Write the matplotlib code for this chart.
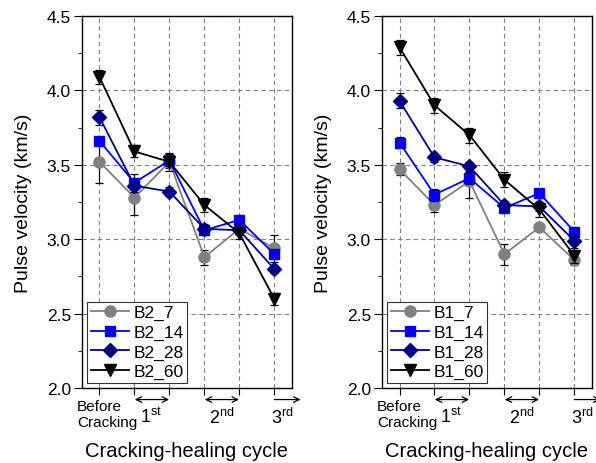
import numpy as np
import matplotlib
matplotlib.use('Agg')
import matplotlib.pyplot as plt

plt.rcParams['font.family'] = ['Liberation Sans', 'DejaVu Sans']
plt.rcParams['mathtext.fontset'] = 'custom'
plt.rcParams['mathtext.rm'] = 'Liberation Sans'
plt.rcParams['mathtext.it'] = 'Liberation Sans'

# 数据: x 为裂缝-愈合阶段位置
x = [1, 2, 3, 4, 5, 6]

b2_7 = [3.52, 3.28, 3.52, 2.88, 3.07, 2.94]
b2_14 = [3.66, 3.38, 3.53, 3.06, 3.13, 2.90]
b2_28 = [3.82, 3.36, 3.32, 3.07, 3.06, 2.80]
b2_60 = [4.09, 3.59, 3.52, 3.23, 3.04, 2.60]
b2_7_err = [0.14, 0.12, 0.04, 0.05, 0.03, 0.09]
b2_14_err = [0.03, 0.06, 0.04, 0.03, 0.03, 0.03]
b2_28_err = [0.05, 0.03, 0.03, 0.03, 0.03, 0.03]
b2_60_err = [0.05, 0.04, 0.06, 0.05, 0.04, 0.04]

b1_7 = [3.47, 3.23, 3.39, 2.90, 3.08, 2.86]
b1_14 = [3.65, 3.30, 3.41, 3.21, 3.31, 3.05]
b1_28 = [3.93, 3.55, 3.49, 3.23, 3.22, 2.99]
b1_60 = [4.29, 3.90, 3.70, 3.40, 3.20, 2.89]
b1_7_err = [0.04, 0.05, 0.11, 0.07, 0.02, 0.03]
b1_14_err = [0.04, 0.04, 0.04, 0.03, 0.03, 0.03]
b1_28_err = [0.05, 0.03, 0.03, 0.03, 0.03, 0.03]
b1_60_err = [0.05, 0.05, 0.05, 0.05, 0.05, 0.05]

colors = ['#808080', '#0000FF', '#00008B', '#000000']
markers = ['o', 's', 'D', 'v']
msizes = [8, 7, 7.5, 9]

yticks = [2.0, 2.5, 3.0, 3.5, 4.0, 4.5]


def draw_panel(ax, series, errs, labels):
    handles = []
    for i in range(len(series)):
        c = ax.errorbar(x, series[i], yerr=errs[i], color=colors[i], marker=markers[i],
                        markersize=msizes[i], lw=1.3, ecolor='black', elinewidth=0.9,
                        capsize=3, capthick=0.9, label=labels[i], zorder=3 + i)
        handles.append(c[0])
    ax.set_xlim(0.5, 6.5)
    ax.set_ylim(2.0, 4.5)
    ax.set_yticks(yticks)
    ax.set_yticklabels(['%.1f' % v for v in yticks], fontsize=12.5)
    ax.set_yticks([2.25, 2.75, 3.25, 3.75, 4.25], minor=True)
    ax.tick_params(axis='y', which='major', direction='out', length=6, pad=2)
    ax.tick_params(axis='y', which='minor', direction='out', length=3)
    ax.set_xticks(x)
    ax.set_xticklabels([])
    ax.tick_params(axis='x', direction='out', length=5)
    ax.grid(True, linestyle='--', color='#808080', lw=0.8, dashes=(4, 3))
    ax.set_ylabel('Pulse velocity (km/s)', fontsize=14)
    ax.yaxis.set_label_coords(-0.238, 0.5)
    ax.set_xlabel('Cracking-healing cycle', fontsize=14.5)
    ax.xaxis.set_label_coords(0.5, -0.142)
    for s in ax.spines.values():
        s.set_linewidth(1.0)

    tr = ax.get_xaxis_transform()
    ax.text(0.36, -0.03, 'Before\nCracking', transform=tr, ha='left', va='top',
            fontsize=11, linespacing=1.15)
    arr = dict(arrowstyle='<->', color='black', lw=0.9, shrinkA=0, shrinkB=0)
    ax.annotate('', xy=(2.01, -0.031), xytext=(2.99, -0.031), xycoords=tr,
                textcoords=tr, arrowprops=arr, annotation_clip=False)
    ax.annotate('', xy=(4.01, -0.031), xytext=(4.99, -0.031), xycoords=tr,
                textcoords=tr, arrowprops=arr, annotation_clip=False)
    ax.annotate('', xy=(6.0, -0.031), xytext=(6.75, -0.031), xycoords=tr,
                textcoords=tr,
                arrowprops=dict(arrowstyle='<-', color='black', lw=0.9,
                                shrinkA=0, shrinkB=0),
                annotation_clip=False)
    ax.text(2.47, -0.05, r'1$^{\mathrm{st}}$', transform=tr, ha='center',
            va='top', fontsize=13)
    ax.text(4.49, -0.05, r'2$^{\mathrm{nd}}$', transform=tr, ha='center',
            va='top', fontsize=13)
    ax.text(6.24, -0.05, r'3$^{\mathrm{rd}}$', transform=tr, ha='center',
            va='top', fontsize=13)

    leg = ax.legend(handles=handles, labels=labels, loc='lower left', fontsize=12.5,
                    handlelength=2.2, frameon=True, fancybox=False,
                    borderaxespad=0.3, labelspacing=0.25, handletextpad=0.25,
                    borderpad=0.2, framealpha=1)
    leg.get_frame().set_edgecolor('#333333')
    leg.get_frame().set_linewidth(0.8)


fig = plt.figure(figsize=(5.96, 4.64), dpi=100)
ax1 = fig.add_axes([0.1376, 0.1616, 0.352, 0.8017])
ax2 = fig.add_axes([0.641, 0.1616, 0.352, 0.8017])

draw_panel(ax1, [b2_7, b2_14, b2_28, b2_60],
           [b2_7_err, b2_14_err, b2_28_err, b2_60_err],
           ['B2_7', 'B2_14', 'B2_28', 'B2_60'])
draw_panel(ax2, [b1_7, b1_14, b1_28, b1_60],
           [b1_7_err, b1_14_err, b1_28_err, b1_60_err],
           ['B1_7', 'B1_14', 'B1_28', 'B1_60'])

fig.savefig('out.png', dpi=100)
